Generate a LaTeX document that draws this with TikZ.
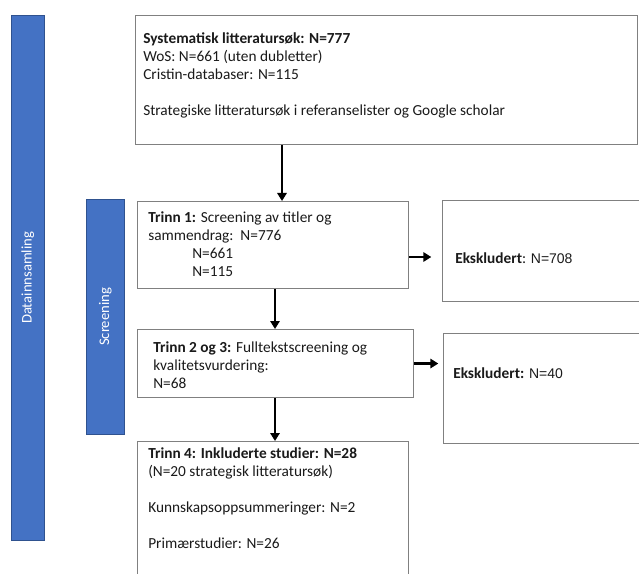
\documentclass[tikz,border=0pt]{standalone}
\usepackage{fontspec}
\setmainfont{Carlito}
\newfontfamily\arialf{Liberation Sans}
\usetikzlibrary{arrows.meta}
\definecolor{barblue}{HTML}{4472C4}
\definecolor{baredge}{HTML}{2F528F}
\definecolor{boxgray}{HTML}{808080}
\definecolor{txtgray}{HTML}{1A1A1A}
\begin{document}
\begin{tikzpicture}[x=0.75pt,y=-0.75pt,
  box/.style={draw=boxgray, line width=0.8pt, rectangle, inner sep=0pt, anchor=north west},
  bar/.style={fill=barblue, draw=baredge, line width=0.5pt, rectangle, inner sep=0pt, anchor=north west},
  bartext/.style={text=white, rotate=90, inner sep=0pt, font=\fontsize{11}{13}\selectfont},
  txt/.style={anchor=north west, align=left, inner sep=0pt, text=txtgray, font=\fontsize{11.5}{13.6}\selectfont},
  arr/.style={-{Triangle[length=6pt,width=7pt]}, line width=1.9pt, black}
]
\useasboundingbox (0,0) rectangle (639,574);
\clip (0,0) rectangle (639,574);
\fill[white] (0,0) rectangle (639,574);

% side bars
\node[bar, minimum width=24.75pt, minimum height=393.75pt] (bar1) at (11,15) {};
\node[bartext] (bar1t) at (bar1.center) {Datainnsamling};
\node[bar, minimum width=28.5pt, minimum height=176.25pt] (bar2) at (86,199) {};
\node[bartext] (bar2t) at (bar2.center) {Screening};

% boxes
\node[box, minimum width=376.5pt, minimum height=96.75pt] (top) at (135,15) {};
\node[box, minimum width=203.25pt, minimum height=65.25pt] (t1) at (137,201) {};
\node[box, minimum width=207pt, minimum height=51pt] (t2) at (137,329) {};
\node[box, minimum width=203.25pt, minimum height=104.25pt] (t4) at (137,441) {};
\node[box, minimum width=152.25pt, minimum height=75.75pt] (e1) at (442,200) {};
\node[box, minimum width=151.5pt, minimum height=82.5pt] (e2) at (443,333) {};

% texts
\node[txt] (topt) at (143,32) {\textbf{Systematisk litteratursøk: N=777}\\
WoS: N=661 (uten dubletter)\\
Cristin-databaser: N=115\\[13.6pt]
Strategiske litteratursøk i referanselister og Google scholar};
\node[txt] (t1t) at (148,211) {\textbf{Trinn 1:} Screening av titler og\\
sammendrag:\ \ N=776\\
\hspace*{33pt}N=661\\
\hspace*{33pt}N=115};
\node[txt] (t2t) at (153,341) {\textbf{Trinn 2 og 3:} Fulltekstscreening og\\
kvalitetsvurdering:\\
N=68};
\node[txt] (t4t) at (148,447) {\textbf{Trinn 4: Inkluderte studier: N=28}\\
(N=20 strategisk litteratursøk)\\[13.6pt]
Kunnskapsoppsummeringer: N=2\\[13.6pt]
Primærstudier: N=26};
\node[txt, anchor=west] (e1t) at (455,258) {\textbf{Ekskludert}: {\arialf\fontsize{10.5}{12}\selectfont N=708}};
\node[txt, anchor=west] (e2t) at (453,373) {\textbf{Ekskludert:} {\arialf\fontsize{10.5}{12}\selectfont N=40}};

% arrows
\coordinate (ca) at (282,0);
\coordinate (cb) at (275,0);
\coordinate (cc) at (0,257);
\draw[arr] (top.south -| ca) -- (t1.north -| ca);
\draw[arr] (t1.south -| cb) -- (t2.north -| cb);
\draw[arr] (t2.south -| cb) -- (t4.north -| cb);
\draw[arr, shorten >=8pt] (t1.east |- cc) -- (e1.west |- cc);
\draw[arr, shorten >=3.5pt] (t2.east) -- (e2.west |- t2.east);
\end{tikzpicture}
\end{document}
